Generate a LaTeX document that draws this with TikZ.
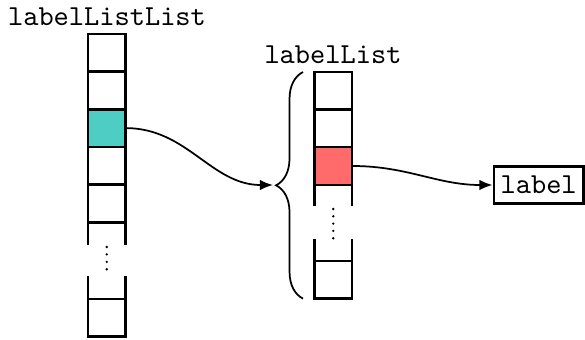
\documentclass[tikz,border=0pt]{standalone}
\usetikzlibrary{arrows.meta,decorations.pathreplacing}
\definecolor{tealc}{HTML}{4ECDC4}
\definecolor{redc}{HTML}{FF6B6B}
\begin{document}
\begin{tikzpicture}[x=0.345pt,y=-0.345pt,
  cellline/.style={line width=0.85pt},
  cellbox/.style={draw,line width=0.85pt,minimum width=12.95pt,minimum height=12.95pt,inner sep=0pt,outer sep=0pt},
  conn/.style={line width=0.6pt,-{Latex[length=4.5pt,width=3.6pt]}},
  dotc/.style={fill=black},
  lbl/.style={font=\ttfamily\fontsize{10}{12}\selectfont,inner sep=0pt}]
\useasboundingbox (0,0) rectangle (585,339);
% left column
\node[lbl] (lll) at (107,17) {labelListList};
\foreach \y in {34,71.7,147,184.7}{
  \draw[cellline] (88,\y) rectangle (125.5,\y+37.65);
}
\node[cellbox,fill=tealc,anchor=north west] (t) at (88,109.3) {};
\draw[cellline] (88,245) -- (88,222.35) -- (125.5,222.35) -- (125.5,245);
\draw[cellline] (88,276) -- (88,299) (125.5,276) -- (125.5,299);
\draw[cellline] (88,299) rectangle (125.5,336.7);
\foreach \y in {247,254.4,261.8,269.2}{
  \fill[dotc] (106.75,\y) circle (0.45pt);
}
% middle column
\node[lbl] (ll) at (333,55) {labelList};
\foreach \y in {72,109.6}{
  \draw[cellline] (314.5,\y) rectangle (352,\y+37.6);
}
\node[cellbox,fill=redc,anchor=north west] (r) at (314.5,147.2) {};
\draw[cellline] (314.5,206) -- (314.5,184.8) -- (352,184.8) -- (352,206);
\draw[cellline] (314.5,239) -- (314.5,261) (352,239) -- (352,261);
\draw[cellline] (314.5,261) rectangle (352,298.6);
\foreach \y in {209,216.3,223.6,230.9,238.2}{
  \fill[dotc] (333.25,\y) circle (0.45pt);
}
% brace
\draw[line width=0.6pt,decorate,decoration={brace,amplitude=9.3pt}] (303,298.6) -- (303,72);
\coordinate (bt) at (273,185);
% label box
\node[draw,line width=0.85pt,lbl,minimum width=31pt,minimum height=12.8pt,anchor=west] (lab) at (492.5,185) {label};
% connectors
\draw[conn] (t.east) to[out=0,in=180] (bt);
\draw[conn] (r.east) to[out=0,in=180] (lab.west);
\end{tikzpicture}
\end{document}
